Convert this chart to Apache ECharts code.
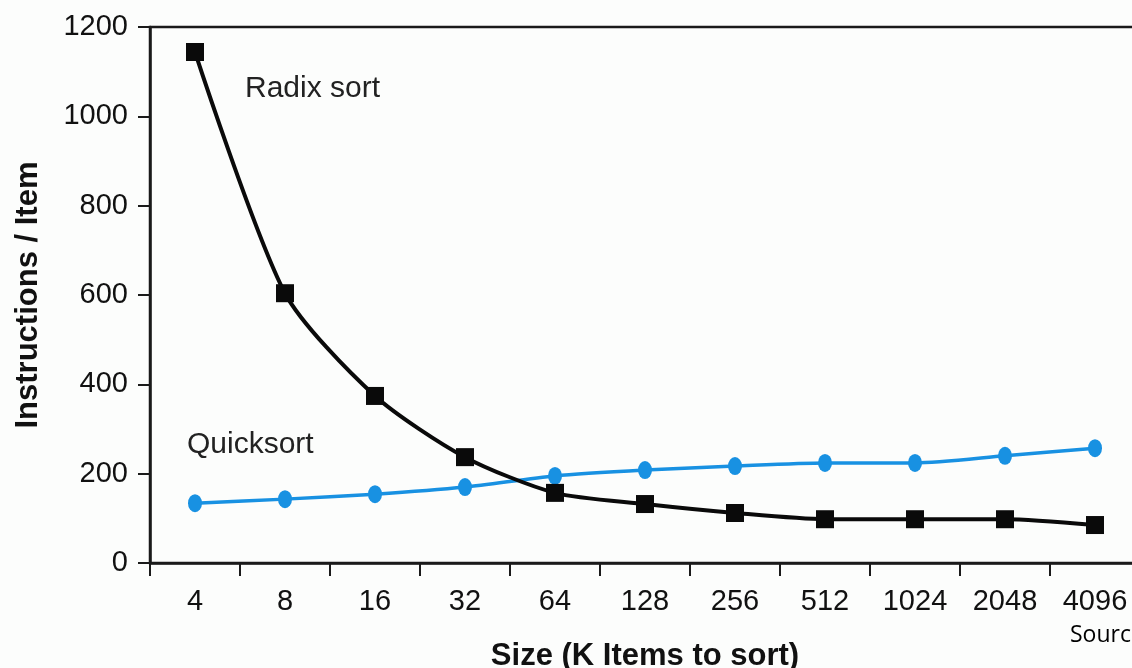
<!DOCTYPE html>
<html>
<head>
<meta charset="utf-8">
<script src="https://cdn.jsdelivr.net/npm/echarts@6/dist/echarts.min.js"></script>
<style>
html,body{margin:0;padding:0;background:#fcfdfc;}
#c{width:1132px;height:668px;}
</style>
</head>
<body>
<div id="c"></div>
<script>
const categories = ['4','8','16','32','64','128','256','512','1024','2048','4096'];
const radixSort = [1144, 604, 374, 237, 157, 132, 112, 98, 98, 98, 85];
const quickSort = [134, 143, 154, 170, 195, 208, 217, 224, 224, 240, 257];
const yTicks = [0, 200, 400, 600, 800, 1000, 1200];

const chart = echarts.init(document.getElementById('c'));
const font = '"Liberation Sans", Arial, Helvetica, sans-serif';
chart.setOption({
  backgroundColor: '#fcfdfc',
  animation: false,
  grid: {left: 150, top: 27, right: -8, bottom: 105, containLabel: false, outerBoundsMode: 'none',
    show: true, borderColor: '#1a1a1a', borderWidth: 2.5, backgroundColor: 'transparent'},
  xAxis: {
    type: 'category',
    data: categories,
    boundaryGap: true,
    axisLine: {lineStyle: {color: '#1a1a1a', width: 2.5}},
    axisTick: {show: true, length: 13, lineStyle: {color: '#1a1a1a', width: 2}},
    axisLabel: {color: '#111', fontFamily: font, fontSize: 29, margin: 24},
    name: 'Size (K Items to sort)',
    nameLocation: 'middle',
    nameGap: 78,
    nameTextStyle: {color: '#111', fontFamily: font, fontSize: 31, fontWeight: 'bold'}
  },
  yAxis: {
    type: 'value',
    min: 0, max: 1200, interval: 200,
    splitLine: {show: false},
    axisLine: {show: true, lineStyle: {color: '#1a1a1a', width: 2.5}},
    axisTick: {show: true, length: 12, lineStyle: {color: '#1a1a1a', width: 2}},
    axisLabel: {color: '#111', fontFamily: font, fontSize: 29, margin: 22,
      formatter: v => yTicks.includes(v) ? String(v) : ''},
    name: 'Instructions / Item',
    nameLocation: 'middle',
    nameGap: 106,
    nameRotate: 90,
    nameTextStyle: {color: '#111', fontFamily: font, fontSize: 31, fontWeight: 'bold'}
  },
  series: [
    {
      name: 'Radix sort', type: 'line', data: radixSort, smooth: 0.25,
      symbol: 'rect', symbolSize: 18,
      lineStyle: {color: '#0a0a0a', width: 4},
      itemStyle: {color: '#0a0a0a'},
      z: 3
    },
    {
      name: 'Quicksort', type: 'line', data: quickSort, smooth: 0.25,
      symbol: 'circle', symbolSize: [14, 18],
      lineStyle: {color: '#1891e2', width: 3.5},
      itemStyle: {color: '#1891e2'},
      z: 2
    }
  ],
  graphic: [
    {type: 'text', left: 245, top: 74, style: {text: 'Radix sort', fontFamily: font, fontSize: 30, fill: '#222'}},
    {type: 'text', left: 187, top: 430, style: {text: 'Quicksort', fontFamily: font, fontSize: 30, fill: '#222'}},
    {type: 'text', left: 1070, top: 624, style: {text: 'Source: ', fontFamily: 'Open Sans, "Noto Sans", sans-serif', fontSize: 23, fill: '#000'}}
  ]
});
</script>
</body>
</html>
